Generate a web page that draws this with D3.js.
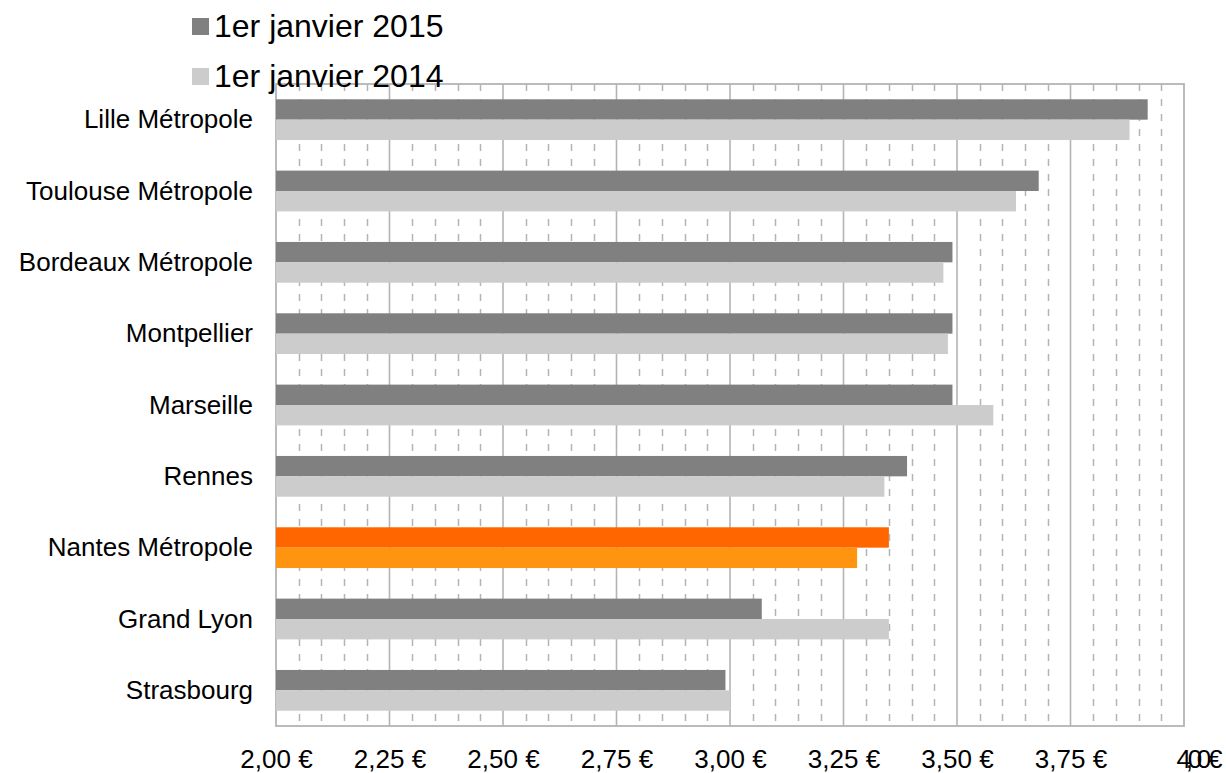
<!DOCTYPE html>
<html><head><meta charset="utf-8">
<script src="https://cdn.jsdelivr.net/npm/d3@7/dist/d3.min.js"></script>
<style>
html,body{margin:0;padding:0;background:#fff;}
svg{display:block;font-family:"Liberation Sans",Arial,sans-serif;}
</style></head>
<body><svg id="chart" width="1226" height="773"></svg>
<script>
const categories = ["Lille Métropole","Toulouse Métropole","Bordeaux Métropole","Montpellier","Marseille","Rennes","Nantes Métropole","Grand Lyon","Strasbourg"];
const seriesNames = ["1er janvier 2015","1er janvier 2014"];
const values2015 = [3.92,3.68,3.49,3.49,3.49,3.39,3.35,3.07,2.99];
const values2014 = [3.88,3.63,3.47,3.48,3.58,3.34,3.28,3.35,3.00];
const xTickValues = [2.00,2.25,2.50,2.75,3.00,3.25,3.50,3.75,4.00];
const xTickLabels = ["2,00 €","2,25 €","2,50 €","2,75 €","3,00 €","3,25 €","3,50 €","3,75 €","4,00 €"];
const highlight = "Nantes Métropole";

const colors = {"1er janvier 2015":"#808080","1er janvier 2014":"#cccccc"};
const hiColors = {"1er janvier 2015":"#ff6600","1er janvier 2014":"#ff9411"};

const m = {left:276, right:1184, top:84, bottom:726};
const svg = d3.select("#chart");
const x = d3.scaleLinear().domain([2,4]).range([m.left,m.right]);
const y = d3.scaleBand().domain(categories).range([m.top,m.bottom]).paddingInner(0.75/1.75).paddingOuter(0.375/1.75);
const ySub = d3.scaleBand().domain(seriesNames).range([0,y.bandwidth()]);

const gridColor = "#b4b4b4";
// minor dashed gridlines
const minor = d3.range(0,41).map(i=>2+i*0.05).filter(v=>Math.abs((v-2)/0.25-Math.round((v-2)/0.25))>1e-6);
svg.append("g").selectAll("line").data(minor).join("line")
  .attr("x1",d=>Math.round(x(d))+0.5).attr("x2",d=>Math.round(x(d))+0.5)
  .attr("y1",m.top).attr("y2",m.bottom)
  .attr("stroke",gridColor).attr("stroke-width",1.5).attr("stroke-dasharray","7,8");
// major gridlines
svg.append("g").selectAll("line").data(xTickValues.slice(1,-1)).join("line")
  .attr("x1",d=>x(d)).attr("x2",d=>x(d))
  .attr("y1",m.top).attr("y2",m.bottom)
  .attr("stroke",gridColor).attr("stroke-width",1.6);
// plot border
svg.append("rect").attr("x",m.left).attr("y",m.top).attr("width",m.right-m.left).attr("height",m.bottom-m.top)
  .attr("fill","none").attr("stroke",gridColor).attr("stroke-width",1.8);

// bars
const rows = categories.map((c,i)=>({cat:c, vals:[{s:seriesNames[0],v:values2015[i]},{s:seriesNames[1],v:values2014[i]}]}));
const g = svg.append("g").selectAll("g").data(rows).join("g")
  .attr("transform",d=>`translate(0,${y(d.cat)})`);
g.selectAll("rect").data(d=>d.vals.map(v=>({...v,cat:d.cat}))).join("rect")
  .attr("x",x(2)).attr("y",d=>ySub(d.s))
  .attr("width",d=>x(d.v)-x(2)).attr("height",ySub.bandwidth())
  .attr("fill",d=>d.cat===highlight?hiColors[d.s]:colors[d.s]);

// y axis
const yAxis = svg.append("g").attr("transform",`translate(${m.left},0)`)
  .call(d3.axisLeft(y).tickSize(0).tickPadding(23));
yAxis.select(".domain").remove();
yAxis.selectAll("text").attr("font-size",26).attr("fill","#000")
  .attr("font-family","Liberation Sans, Arial, sans-serif").attr("dy","0.33em");

// x axis
const xAxis = svg.append("g").attr("transform",`translate(0,${m.bottom})`)
  .call(d3.axisBottom(x).tickValues(xTickValues).tickFormat((d,i)=>xTickLabels[i]).tickSize(0).tickPadding(0));
xAxis.select(".domain").remove();
xAxis.selectAll("text").attr("font-size",26).attr("fill","#000")
  .attr("font-family","Liberation Sans, Arial, sans-serif").attr("dy",null).attr("y",42);
// last label squeezed as in original
xAxis.selectAll(".tick").filter((d,i)=>i===xTickValues.length-1).select("text")
  .attr("text-anchor","start").attr("x",-8).attr("textLength",46).attr("lengthAdjust","spacing");

// legend
const leg = svg.append("g").selectAll("g").data(seriesNames).join("g")
  .attr("transform",(d,i)=>`translate(192,${18+i*50})`);
leg.append("rect").attr("width",17).attr("height",17).attr("fill",d=>colors[d]);
leg.append("text").attr("x",22).attr("y",19).attr("font-size",32).attr("fill","#000").text(d=>d);
</script></body></html>
